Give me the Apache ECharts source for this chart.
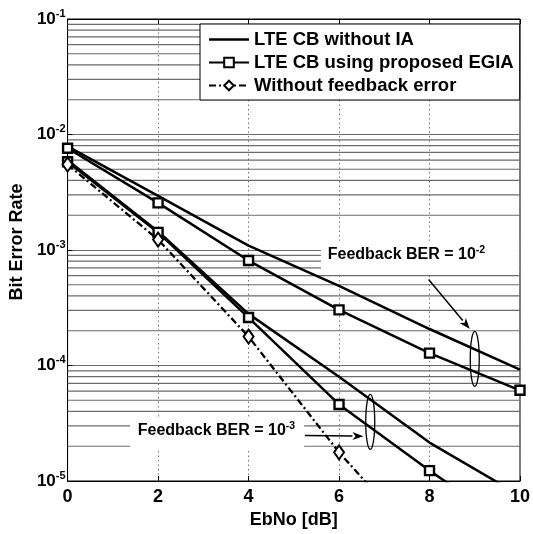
<!DOCTYPE html>
<html><head><meta charset="utf-8">
<script src="https://cdn.jsdelivr.net/npm/echarts@6/dist/echarts.min.js"></script>
<style>html,body{margin:0;padding:0;background:#fff}#c{width:533px;height:534px}</style>
</head><body><div id="c"></div>
<script>
// ---- data ----
const ebno = [0, 2, 4, 6, 8, 10];
const cbNoIA_fb2 = [7.9e-3, 2.94e-3, 1.09e-3, 4.9e-4, 2.07e-4, 9.2e-5];   // LTE CB without IA, feedback BER 1e-2
const egia_fb2   = [7.6e-3, 2.56e-3, 8.1e-4, 3.03e-4, 1.28e-4, 6.1e-5];   // EGIA, feedback BER 1e-2
const cbNoIA_fb3 = [6.0e-3, 1.45e-3, 2.8e-4, 8.0e-5, 2.15e-5, 7.5e-6];    // LTE CB without IA, feedback BER 1e-3
const egia_fb3   = [5.8e-3, 1.42e-3, 2.6e-4, 4.6e-5, 1.23e-5, 3.6e-6];   // EGIA, feedback BER 1e-3
const noFbErr    = [5.5e-3, 1.23e-3, 1.78e-4, 1.77e-5, 2.4e-6, null];    // without feedback error
const xTicks = [0, 2, 4, 6, 8, 10];
const yMin = 1e-5, yMax = 1e-1;
const legendNames = ['LTE CB without IA', 'LTE CB using proposed EGIA', 'Without feedback error'];
const annoText = ['Feedback BER = 10', 'Feedback BER = 10'];
const annoExp = ['-2', '-3'];

const FONT = 'Liberation Sans, Arial, Helvetica, sans-serif';
const toPts = arr => ebno.map((x, i) => [x, arr[i]]).filter(p => p[1] != null);

// minor log grid positions (2..9 x 10^e), drawn as horizontal segments across the x range
const minorGrid = [];
for (let e = -5; e <= -2; e++) for (let k = 2; k <= 9; k++) minorGrid.push(+(k * Math.pow(10, e)).toPrecision(3));
const gridPts = [];
minorGrid.forEach(v => { gridPts.push([xTicks[0], v], [xTicks[xTicks.length - 1], v], [xTicks[xTicks.length - 1], '-']); });

const chart = echarts.init(document.getElementById('c'), null, {renderer: 'canvas'});
const lineBase = {type: 'line', z: 3, clip: true, animation: false};
const sqStyle = {color: '#fff', borderColor: '#000', borderWidth: 2.4};
const GRIDC = '#6b6b6b';

chart.setOption({
  animation: false,
  backgroundColor: '#fff',
  grid: {left: 67, right: 9, top: 19, bottom: 49, show: true, borderColor: '#000', borderWidth: 1, backgroundColor: 'transparent'},
  legend: {
    data: [
      {name: legendNames[0], icon: 'path://M0,0L40,0L40,2.4L0,2.4Z'},
      {name: legendNames[1]},
      {name: legendNames[2]}
    ],
    orient: 'vertical', left: 200, top: 24,
    padding: [6, 6, 5, 8], itemGap: 4, itemWidth: 40, itemHeight: 12, itemTextGap: 2,
    backgroundColor: '#fff', borderColor: '#000', borderWidth: 1, borderRadius: 0,
    textStyle: {fontSize: 18.5, fontWeight: 'bold', fontFamily: FONT, color: '#000', lineHeight: 18},
    selectedMode: false, z: 10
  },
  xAxis: [{
    type: 'value', min: 0, max: 10, interval: 2,
    name: 'EbNo [dB]', nameLocation: 'middle', nameGap: 30,
    nameTextStyle: {fontSize: 18, fontWeight: 'bold', fontFamily: FONT, color: '#000'},
    axisLine: {show: true, lineStyle: {color: '#000', width: 1}},
    axisTick: {show: true, inside: true, length: 5, lineStyle: {color: '#000'}},
    axisLabel: {fontSize: 18, fontWeight: 'bold', fontFamily: FONT, color: '#000', margin: 7},
    splitLine: {show: true, lineStyle: {type: [1.5, 3], color: '#777', width: 1}}
  }, {
    type: 'value', min: 0, max: 10, interval: 2, position: 'top',
    axisLine: {show: true, lineStyle: {color: '#000'}},
    axisTick: {show: true, inside: true, length: 5, lineStyle: {color: '#000'}},
    axisLabel: {show: false}, splitLine: {show: false}
  }],
  yAxis: [{
    type: 'log', logBase: 10, min: yMin, max: yMax,
    name: 'Bit Error Rate', nameLocation: 'middle', nameGap: 41,
    nameTextStyle: {fontSize: 18, fontWeight: 'bold', fontFamily: FONT, color: '#000', padding: [0, 0, 0, 16]},
    axisLine: {show: true, lineStyle: {color: '#000', width: 1}},
    axisTick: {show: true, inside: true, length: 5, lineStyle: {color: '#000'}},
    axisLabel: {
      margin: 2,
      formatter: v => '{b|10}{s|' + Math.round(Math.log10(v)) + '}',
      rich: {
        b: {fontSize: 17, fontWeight: 'bold', fontFamily: FONT, color: '#000', lineHeight: 22, verticalAlign: 'middle'},
        s: {fontSize: 11, fontWeight: 'bold', fontFamily: FONT, color: '#000', lineHeight: 12, verticalAlign: 'top'}
      }
    },
    splitLine: {show: true, lineStyle: {color: GRIDC, width: 1.2}}
  }],
  series: [
    {type: 'line', name: 'grid', data: gridPts, z: 1, silent: true, animation: false, symbol: 'none',
      connectNulls: false, lineStyle: {color: GRIDC, width: 1.2}, legendHoverLink: false},
    Object.assign({}, lineBase, {name: legendNames[0], data: toPts(cbNoIA_fb2), symbol: 'none',
      lineStyle: {color: '#000', width: 2.5}, itemStyle: {color: '#000'}}),
    Object.assign({}, lineBase, {name: legendNames[1], data: toPts(egia_fb2), symbol: 'rect', symbolSize: 9,
      lineStyle: {color: '#000', width: 2.5}, itemStyle: sqStyle}),
    Object.assign({}, lineBase, {name: legendNames[0], data: toPts(cbNoIA_fb3), symbol: 'none',
      lineStyle: {color: '#000', width: 2.5}, itemStyle: {color: '#000'}}),
    Object.assign({}, lineBase, {name: legendNames[1], data: toPts(egia_fb3), symbol: 'rect', symbolSize: 9,
      lineStyle: {color: '#000', width: 2.5}, itemStyle: sqStyle}),
    Object.assign({}, lineBase, {name: legendNames[2], data: toPts(noFbErr), symbol: 'diamond', symbolSize: [10, 14],
      lineStyle: {color: '#000', width: 2.3, type: [7, 3, 2, 3]}, itemStyle: {color: '#fff', borderColor: '#000', borderWidth: 2}})
  ]
});

// ---- annotations positioned in data space ----
const P = (x, y) => chart.convertToPixel({xAxisIndex: 0, yAxisIndex: 0}, [x, y]);
const boxes = [[5.6, 1.2e-3, 9.98, 6.3e-4], [1.38, 3.5e-5, 5.23, 1.85e-5]];
const textAt = [[5.75, 9.1e-4], [1.55, 2.74e-5]];
const ellipses = [[9.0, 1.14e-4], [6.69, 3.25e-5]];
const arrows = [[7.98, 5.56e-4, 8.89, 2.07e-4], [5.245, 2.48e-5, 6.54, 2.44e-5]];

const g = [];
boxes.forEach(b => {
  const p1 = P(b[0], b[1]), p2 = P(b[2], b[3]);
  g.push({type: 'rect', z: 2, silent: true, shape: {x: p1[0], y: p1[1], width: p2[0] - p1[0], height: p2[1] - p1[1]}, style: {fill: '#fff'}});
});
textAt.forEach((t, i) => {
  const p = P(t[0], t[1]);
  g.push({type: 'text', z: 5, x: p[0], y: p[1], style: {
    text: '{b|' + annoText[i] + '}{s|' + annoExp[i] + '}', align: 'left', verticalAlign: 'middle',
    rich: {
      b: {fontSize: 16, fontWeight: 'bold', fontFamily: FONT, fill: '#000', lineHeight: 20, verticalAlign: 'middle'},
      s: {fontSize: 10.5, fontWeight: 'bold', fontFamily: FONT, fill: '#000', lineHeight: 10, verticalAlign: 'top'}
    }}});
});
ellipses.forEach(e => {
  const p = P(e[0], e[1]);
  g.push({type: 'ellipse', z: 5, silent: true, shape: {cx: p[0], cy: p[1], rx: 4.5, ry: 27.5}, style: {fill: 'none', stroke: '#000', lineWidth: 1.3}});
});
arrows.forEach(a => {
  const s = P(a[0], a[1]), e = P(a[2], a[3]);
  const dx = e[0] - s[0], dy = e[1] - s[1], L = Math.hypot(dx, dy), ux = dx / L, uy = dy / L;
  const hl = 11, hw = 4;
  const bx = e[0] - ux * hl, by = e[1] - uy * hl;
  g.push({type: 'line', z: 5, silent: true, shape: {x1: s[0], y1: s[1], x2: bx, y2: by}, style: {stroke: '#000', lineWidth: 1.5}});
  g.push({type: 'polygon', z: 5, silent: true, shape: {points: [[e[0], e[1]], [bx - uy * hw, by + ux * hw], [bx + ux * 3, by + uy * 3], [bx + uy * hw, by - ux * hw]]}, style: {fill: '#000'}});
});
chart.setOption({graphic: {elements: g}});
</script>
</body></html>
